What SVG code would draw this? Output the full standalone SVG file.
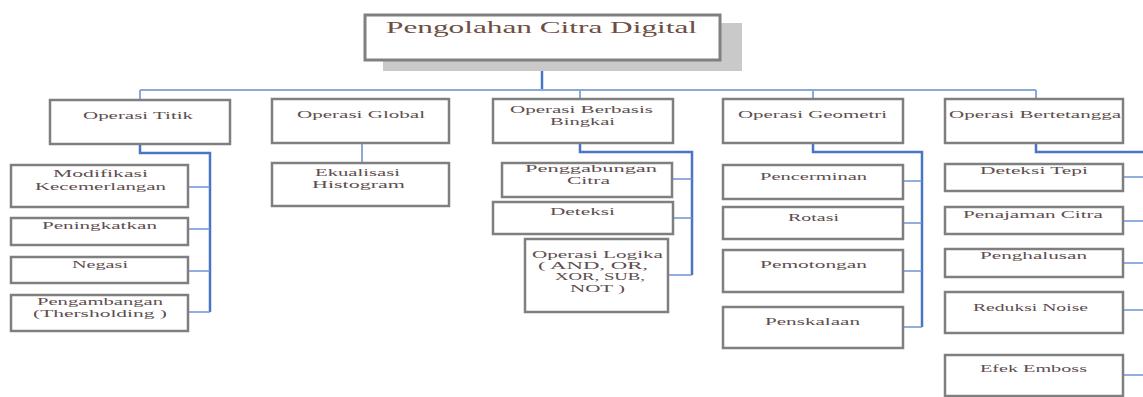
<svg xmlns="http://www.w3.org/2000/svg" width="1143" height="397" viewBox="0 0 1143 397">
<style>
.box{fill:#fff;stroke:#7f7f7f;stroke-width:2.5}
.t{font-family:"Liberation Serif",serif;font-size:11px;fill:#5e4e4e;text-anchor:start}
.root{font-family:"Liberation Serif",serif;font-size:16px;fill:#6e4e42}
.bus{fill:none;stroke:#4a74c4;stroke-width:2.5}
.bus2{fill:none;stroke:#8aa8dc;stroke-width:2}
.br{fill:none;stroke:#6f94d4;stroke-width:1.5}
</style>
<rect width="1143" height="397" fill="#fff"/>
<g id="connectors">
<path class="bus" d="M542 60V90"/>
<path class="bus2" d="M140 90H1036"/>
<path class="bus2" d="M140 90V100M580 90V99M813 90V99M1036 90V99"/>
<path class="bus2" d="M362 143V163" stroke="#a8c0e8"/>
<path class="bus" d="M140 144V153H210V312"/>
<path class="br" d="M188 187H210M188 229H210M188 271H210M188 312H210"/>
<path class="bus" d="M580 143V152H692V275"/>
<path class="br" d="M672 179H692M673 218H692M668 275H692"/>
<path class="bus" d="M813 143V152H922V327"/>
<path class="br" d="M903 181H922M903 223H922M903 271H922M903 327H922"/>
<path class="bus" d="M1036 143V152H1143"/>
<path class="br" d="M1123 177H1143M1123 221H1143M1123 263H1143M1123 310H1143M1123 375H1143"/>
</g>
<g id="root">
<rect x="383" y="23" width="359" height="48" fill="#c9c9c9"/>
<rect x="365" y="15" width="355" height="45" fill="#fff" stroke="#808080" stroke-width="3"/>
<text class="root" x="386" y="33" textLength="311" lengthAdjust="spacingAndGlyphs">Pengolahan Citra Digital</text>
</g>
<g id="operasi-titik">
<rect class="box" x="50" y="100" width="180" height="44"/>
<text class="t" x="83" y="119" textLength="110" lengthAdjust="spacingAndGlyphs">Operasi Titik</text>
</g>
<g id="modifikasi">
<rect class="box" x="11" y="165" width="177" height="42"/>
<text class="t" x="53" y="177" textLength="95" lengthAdjust="spacingAndGlyphs">Modifikasi</text>
<text class="t" x="35" y="190" textLength="131" lengthAdjust="spacingAndGlyphs">Kecemerlangan</text>
</g>
<g id="peningkatkan">
<rect class="box" x="11" y="218" width="177" height="27"/>
<text class="t" x="42" y="229" textLength="115" lengthAdjust="spacingAndGlyphs">Peningkatkan</text>
</g>
<g id="negasi">
<rect class="box" x="11" y="257" width="177" height="26"/>
<text class="t" x="72" y="268" textLength="56" lengthAdjust="spacingAndGlyphs">Negasi</text>
</g>
<g id="pengambangan">
<rect class="box" x="11" y="295" width="177" height="36"/>
<text class="t" x="37" y="305" textLength="126" lengthAdjust="spacingAndGlyphs">Pengambangan</text>
<text class="t" x="33" y="317" textLength="134" lengthAdjust="spacingAndGlyphs">(Thersholding )</text>
</g>
<g id="operasi-global">
<rect class="box" x="272" y="99" width="177" height="44"/>
<text class="t" x="297" y="118" textLength="128" lengthAdjust="spacingAndGlyphs">Operasi Global</text>
</g>
<g id="ekualisasi">
<rect class="box" x="272" y="163" width="177" height="43"/>
<text class="t" x="315" y="176" textLength="85" lengthAdjust="spacingAndGlyphs">Ekualisasi</text>
<text class="t" x="312" y="188" textLength="93" lengthAdjust="spacingAndGlyphs">Histogram</text>
</g>
<g id="operasi-bingkai">
<rect class="box" x="493" y="99" width="180" height="44"/>
<text class="t" x="510" y="113" textLength="143" lengthAdjust="spacingAndGlyphs">Operasi Berbasis</text>
<text class="t" x="550" y="125" textLength="65" lengthAdjust="spacingAndGlyphs">Bingkai</text>
</g>
<g id="penggabungan">
<rect class="box" x="502" y="163" width="170" height="34"/>
<text class="t" x="525" y="172" textLength="132" lengthAdjust="spacingAndGlyphs">Penggabungan</text>
<text class="t" x="567" y="184" textLength="43" lengthAdjust="spacingAndGlyphs">Citra</text>
</g>
<g id="deteksi">
<rect class="box" x="493" y="202" width="180" height="32"/>
<text class="t" x="550" y="215" textLength="65" lengthAdjust="spacingAndGlyphs">Deteksi</text>
</g>
<g id="operasi-logika">
<rect class="box" x="525" y="239" width="143" height="73"/>
<text class="t" x="532" y="258" textLength="131" lengthAdjust="spacingAndGlyphs">Operasi Logika</text>
<text class="t" x="538" y="269" textLength="110" lengthAdjust="spacingAndGlyphs">( AND, OR,</text>
<text class="t" x="555" y="280" textLength="90" lengthAdjust="spacingAndGlyphs">XOR, SUB,</text>
<text class="t" x="570" y="292" textLength="55" lengthAdjust="spacingAndGlyphs">NOT )</text>
</g>
<g id="operasi-geometri">
<rect class="box" x="723" y="99" width="180" height="44"/>
<text class="t" x="738" y="118" textLength="149" lengthAdjust="spacingAndGlyphs">Operasi Geometri</text>
</g>
<g id="pencerminan">
<rect class="box" x="723" y="165" width="180" height="34"/>
<text class="t" x="760" y="180" textLength="107" lengthAdjust="spacingAndGlyphs">Pencerminan</text>
</g>
<g id="rotasi">
<rect class="box" x="723" y="207" width="180" height="32"/>
<text class="t" x="788" y="221" textLength="51" lengthAdjust="spacingAndGlyphs">Rotasi</text>
</g>
<g id="pemotongan">
<rect class="box" x="723" y="250" width="180" height="42"/>
<text class="t" x="760" y="268" textLength="107" lengthAdjust="spacingAndGlyphs">Pemotongan</text>
</g>
<g id="penskalaan">
<rect class="box" x="723" y="307" width="180" height="41"/>
<text class="t" x="765" y="325" textLength="95" lengthAdjust="spacingAndGlyphs">Penskalaan</text>
</g>
<g id="operasi-bertetangga">
<rect class="box" x="945" y="99" width="178" height="44"/>
<text class="t" x="949" y="118" textLength="172" lengthAdjust="spacingAndGlyphs">Operasi Bertetangga</text>
</g>
<g id="deteksi-tepi">
<rect class="box" x="945" y="164" width="178" height="27"/>
<text class="t" x="980" y="174" textLength="108" lengthAdjust="spacingAndGlyphs">Deteksi Tepi</text>
</g>
<g id="penajaman">
<rect class="box" x="945" y="207" width="178" height="27"/>
<text class="t" x="963" y="218" textLength="140" lengthAdjust="spacingAndGlyphs">Penajaman Citra</text>
</g>
<g id="penghalusan">
<rect class="box" x="945" y="249" width="178" height="28"/>
<text class="t" x="980" y="259" textLength="107" lengthAdjust="spacingAndGlyphs">Penghalusan</text>
</g>
<g id="reduksi-noise">
<rect class="box" x="945" y="292" width="178" height="41"/>
<text class="t" x="973" y="311" textLength="115" lengthAdjust="spacingAndGlyphs">Reduksi Noise</text>
</g>
<g id="efek-emboss">
<rect class="box" x="945" y="355" width="178" height="41"/>
<text class="t" x="980" y="372" textLength="107" lengthAdjust="spacingAndGlyphs">Efek Emboss</text>
</g>
</svg>
